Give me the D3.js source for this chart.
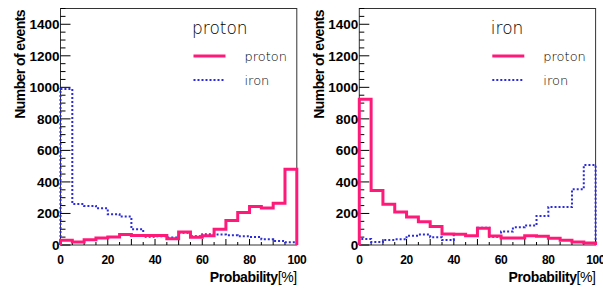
<!DOCTYPE html>
<html>
<head>
<meta charset="utf-8">
<script src="https://cdn.jsdelivr.net/npm/d3@7"></script>
<style>
  body { margin: 0; background: #fff; }
  svg { display: block; }
  .tick-label { font-family: "Liberation Sans", Arial, sans-serif; font-weight: bold; fill: #000; }
  .legend { font-family: "DejaVu Sans", sans-serif; font-weight: 200; fill: #000; }
</style>
</head>
<body>
<svg id="chart" width="603" height="291"></svg>
<script>
// bin edges: 20 bins of 5 %
var binEdges = d3.range(0, 101, 5);

// left panel: proton-like sample
var leftProton = [30, 19, 34, 44, 51, 66, 61, 60, 61, 40, 83, 49, 59, 100, 155, 206, 244, 235, 265, 480];
var leftIron = [990, 260, 248, 233, 195, 180, 100, 53, 55, 48, 78, 55, 68, 66, 62, 55, 50, 36, 25, 17];

// right panel: iron-like sample
var rightProton = [925, 345, 258, 210, 178, 148, 117, 70, 68, 59, 106, 57, 45, 44, 59, 55, 43, 30, 19, 13];
var rightIron = [38, 19, 32, 36, 59, 66, 49, 32, 70, 57, 110, 53, 85, 112, 123, 184, 241, 241, 354, 508];

var panelTitles = ['proton', 'iron'];
var seriesNames = ['proton', 'iron'];
var xTicks = [0, 20, 40, 60, 80, 100];
var yTicks = [0, 200, 400, 600, 800, 1000, 1200, 1400];

var pink = '#ff1a7a',
    blue = '#2b2bd9';

var svg = d3.select('#chart');

var panels = [
    {left: 60.5, title: panelTitles[0], proton: leftProton, iron: leftIron},
    {left: 359.3, title: panelTitles[1], proton: rightProton, iron: rightIron}
];

var plotW = 236.3,
    plotTop = 8.5,
    plotBottom = 245;

// histogram outline as a list of points, starting and ending on the axis
var histPoints = function (values) {
    var pts = [[0, 0]];
    values.forEach(function (v, i) {
        pts.push([binEdges[i], v]);
        pts.push([binEdges[i + 1], v]);
    });
    pts.push([100, 0]);
    return pts;
};

panels.forEach(function (p) {
    var x = d3.scaleLinear().domain([0, 100]).range([p.left, p.left + plotW]),
        y = d3.scaleLinear().domain([0, 1500]).range([plotBottom, plotTop]),
        g = svg.append('g'),
        line = d3.line().x(function (d) { return x(d[0]); }).y(function (d) { return y(d[1]); });

    // frame
    g.append('rect')
        .attr('x', x(0)).attr('y', y(1500))
        .attr('width', x(100) - x(0)).attr('height', y(0) - y(1500))
        .attr('fill', 'none').attr('stroke', '#333').attr('stroke-width', 1);

    // y ticks, inside the frame
    d3.range(0, 1501, 50).forEach(function (v) {
        var len = v % 200 === 0 ? 10 : 5;
        g.append('line')
            .attr('x1', x(0)).attr('x2', x(0) + len)
            .attr('y1', y(v)).attr('y2', y(v))
            .attr('stroke', '#000').attr('stroke-width', 1);
    });
    // x ticks
    d3.range(0, 101, 5).forEach(function (v) {
        var len = v % 10 === 0 ? 6 : 3;
        g.append('line')
            .attr('x1', x(v)).attr('x2', x(v))
            .attr('y1', y(0)).attr('y2', y(0) - len)
            .attr('stroke', '#000').attr('stroke-width', 1);
    });

    // histograms
    g.append('path')
        .attr('d', line(histPoints(p.iron)))
        .attr('fill', 'none').attr('stroke', blue)
        .attr('stroke-width', 2).attr('stroke-dasharray', '2,2');
    g.append('path')
        .attr('d', line(histPoints(p.proton)))
        .attr('fill', 'none').attr('stroke', pink)
        .attr('stroke-width', 3);

    // axis labels
    g.selectAll('.ylab').data(yTicks).enter().append('text')
        .attr('class', 'tick-label')
        .attr('x', x(0) - 1).attr('y', function (d) { return y(d); })
        .attr('dy', '0.36em')
        .attr('text-anchor', 'end')
        .style('font-size', '13.5px')
        .text(function (d) { return d; });
    g.selectAll('.xlab').data(xTicks).enter().append('text')
        .attr('class', 'tick-label')
        .attr('x', function (d) { return x(d); }).attr('y', 264)
        .attr('text-anchor', 'middle')
        .style('font-size', '12px')
        .style('letter-spacing', '-0.4px')
        .text(function (d) { return d; });

    var xt = g.append('text')
        .attr('class', 'tick-label')
        .attr('x', x(100)).attr('y', 281.5)
        .attr('text-anchor', 'end')
        .style('font-size', '14px')
        .style('letter-spacing', '-0.4px');
    xt.append('tspan').text('Probability');
    xt.append('tspan').style('font-weight', 'normal').text('[%]');

    g.append('text')
        .attr('class', 'tick-label')
        .attr('transform', 'translate(' + (x(0) - 35.5) + ',10) rotate(-90)')
        .attr('text-anchor', 'end')
        .style('font-size', '14px')
        .style('letter-spacing', '-0.6px')
        .text('Number of events');

    // legend
    var lx = x(0) + 132;
    g.append('text')
        .attr('class', 'legend')
        .attr('x', lx - 0.5).attr('y', 33.5)
        .style('font-size', '17px')
        .text(p.title);
    [pink, blue].forEach(function (c, i) {
        var ly = 56 + i * 24;
        g.append('line')
            .attr('x1', lx + 1).attr('x2', lx + 33)
            .attr('y1', ly).attr('y2', ly)
            .attr('stroke', c)
            .attr('stroke-width', i === 0 ? 3 : 2)
            .attr('stroke-dasharray', i === 0 ? null : '2,2');
        g.append('text')
            .attr('class', 'legend')
            .attr('x', lx + 52).attr('y', ly)
            .attr('dy', '0.36em')
            .style('font-size', '13px')
            .text(seriesNames[i]);
    });
});
</script>
</body>
</html>
